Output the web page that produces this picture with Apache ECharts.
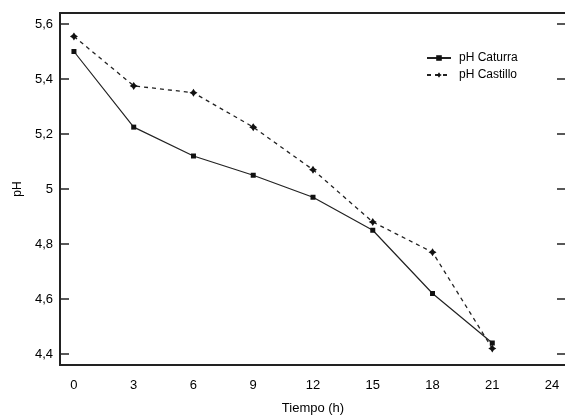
<!DOCTYPE html>
<html>
<head>
<meta charset="utf-8">
<script src="https://cdn.jsdelivr.net/npm/echarts@6/dist/echarts.min.js"></script>
<style>html,body{margin:0;padding:0;background:#fff;}#c{width:565px;height:415px;}</style>
</head>
<body>
<div id="c"></div>
<script>
const hours = [0, 3, 6, 9, 12, 15, 18, 21];
const phCaturra = [5.50, 5.225, 5.12, 5.05, 4.97, 4.85, 4.62, 4.44];
const phCastillo = [5.555, 5.375, 5.35, 5.225, 5.07, 4.88, 4.77, 4.42];
const xTicks = [0, 3, 6, 9, 12, 15, 18, 21, 24];
const yTicks = [4.4, 4.6, 4.8, 5.0, 5.2, 5.4, 5.6];

const font = 'Liberation Sans, Arial, sans-serif';
const fmtY = v => (Math.round(v * 10) / 10).toString().replace('.', ',');
const txt = {fontFamily: font, color: '#000', fontWeight: 'normal'};

const chart = echarts.init(document.getElementById('c'), null, {renderer: 'canvas'});
chart.setOption({
  animation: false,
  backgroundColor: '#fff',
  grid: {left: 60, right: -1, top: 13, bottom: 50, outerBoundsMode: 'none', containLabel: false,
         show: true, borderColor: '#222', borderWidth: 1.5, backgroundColor: 'transparent'},
  legend: {
    orient: 'vertical', left: 421, top: 47, itemWidth: 24, itemHeight: 7, itemGap: 5,
    textStyle: Object.assign({fontSize: 12, padding: [0, 0, 0, 3]}, txt),
    data: ['pH Caturra', 'pH Castillo']
  },
  xAxis: [{
    type: 'value', min: -0.7, max: 24.7,
    name: 'Tiempo (h)', nameLocation: 'middle', nameGap: 37,
    nameTextStyle: Object.assign({fontSize: 13}, txt),
    axisLine: {show: true, onZero: false, lineStyle: {color: '#222', width: 2}},
    axisTick: {show: false},
    splitLine: {show: false},
    axisLabel: Object.assign({customValues: xTicks, fontSize: 13, margin: 14}, txt)
  }, {
    type: 'value', min: -0.7, max: 24.7, position: 'top',
    axisLine: {show: true, onZero: false, lineStyle: {color: '#222', width: 2}},
    axisTick: {show: false},
    axisLabel: {show: false},
    splitLine: {show: false}
  }],
  yAxis: [{
    type: 'value', min: 4.36, max: 5.64,
    name: 'pH', nameLocation: 'middle', nameGap: 36, nameRotate: 90,
    nameTextStyle: Object.assign({fontSize: 12}, txt),
    axisLine: {show: true, onZero: false, lineStyle: {color: '#222', width: 2}},
    axisTick: {show: true, inside: true, length: 9, customValues: yTicks, lineStyle: {color: '#222', width: 1.5}},
    splitLine: {show: false},
    axisLabel: Object.assign({customValues: yTicks, formatter: fmtY, fontSize: 13, margin: 7}, txt)
  }, {
    type: 'value', min: 4.36, max: 5.64, position: 'right',
    axisLine: {show: true, onZero: false, lineStyle: {color: '#222', width: 1.5}},
    axisTick: {show: true, inside: true, length: 9, customValues: yTicks, lineStyle: {color: '#222', width: 1.5}},
    axisLabel: {show: false},
    splitLine: {show: false}
  }],
  series: [{
    name: 'pH Caturra', type: 'line',
    xAxisIndex: 0, yAxisIndex: 0,
    data: hours.map((h, i) => [h, phCaturra[i]]),
    symbol: 'rect', symbolSize: 5,
    lineStyle: {color: '#222', width: 1.2},
    itemStyle: {color: '#111'}
  }, {
    name: 'pH Castillo', type: 'line',
    xAxisIndex: 0, yAxisIndex: 0,
    data: hours.map((h, i) => [h, phCastillo[i]]),
    symbol: 'path://M0,-10 L4,-4 L10,0 L4,4 L0,10 L-4,4 L-10,0 L-4,-4 Z', symbolSize: 8,
    lineStyle: {color: '#222', width: 1.3, type: [4, 4]},
    itemStyle: {color: '#111'}
  }]
});
</script>
</body>
</html>
